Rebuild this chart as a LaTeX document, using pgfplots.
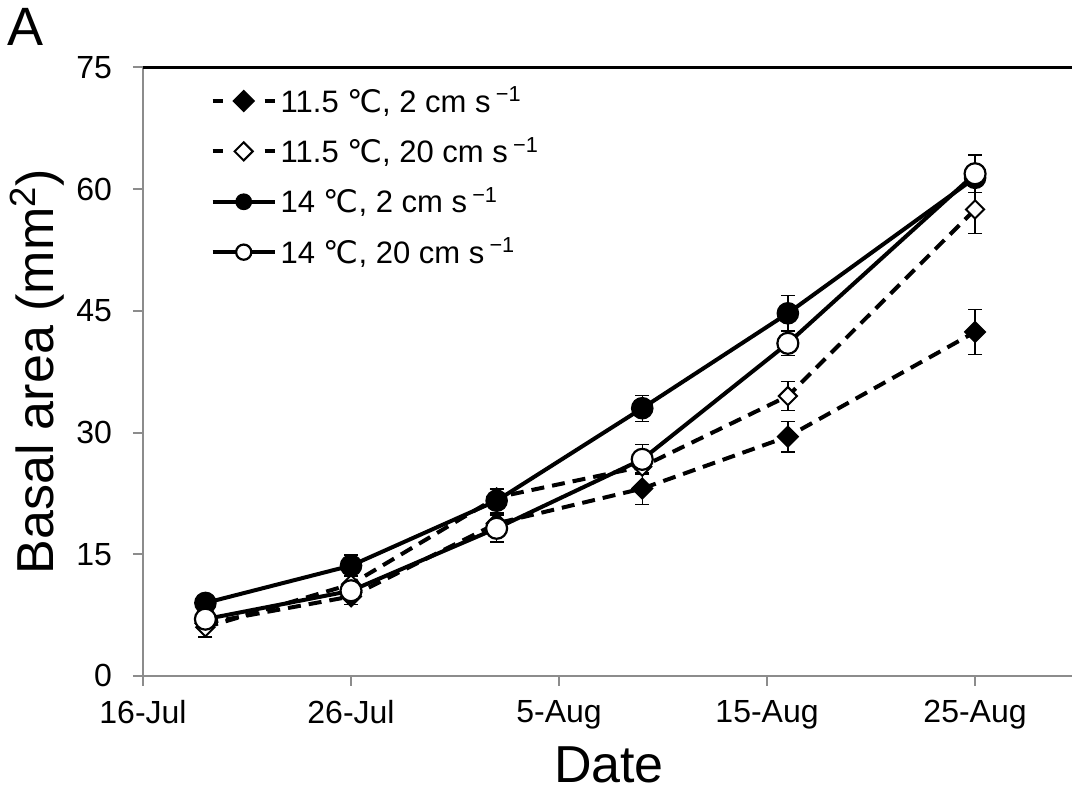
\documentclass[border=0pt]{standalone}
\usepackage{fontspec}
\setmainfont{Liberation Sans}
\newfontfamily\djfont{DejaVu Sans}
\usepackage{pgfplots}
\pgfplotsset{compat=1.18}
\usepackage{pgfplotstable}

% x = days after 16-Jul
\pgfplotstableread{
x y e
3 6.5 0.6
10 9.8 1.0
17 18.8 1.0
24 23.1 2.0
31 29.5 1.9
40 42.4 2.8
}\tabA
\pgfplotstableread{
x y e
3 6.0 1.2
10 11.3 1.0
17 22.0 1.0
24 25.8 1.0
31 34.5 1.8
40 57.5 3.0
}\tabB
\pgfplotstableread{
x y e
3 9.0 0.5
10 13.6 1.3
17 21.6 1.5
24 33.0 1.6
31 44.7 2.2
40 61.4 1.0
}\tabC
\pgfplotstableread{
x y e
3 7.0 0.5
10 10.5 0.8
17 18.2 1.7
24 26.7 1.8
31 41.0 1.5
40 61.9 2.3
}\tabD

\pgfplotsset{
  dashleg/.style={legend image code/.code={
    \draw[##1,solid] (0pt,0pt) -- (5pt,0pt);
    \draw[##1,solid] (26pt,0pt) -- (31pt,0pt);
    \draw[##1] plot coordinates {(15.5pt,0pt)};}},
  solidleg/.style={legend image code/.code={
    \draw[##1,solid] (0pt,0pt) -- (31pt,0pt);
    \draw[##1,mark size=3.8pt] plot coordinates {(15.5pt,0pt)};}},
  ebar/.style={error bars/.cd, y dir=both, y explicit,
    error bar style={black,line width=0.7pt,solid},
    error mark options={rotate=90,mark size=3.5pt,black,line width=0.7pt,solid}},
}

\begin{document}
\begin{tikzpicture}
\begin{axis}[
  scale only axis, width=464.5pt, height=304.25pt,
  xmin=0, xmax=44.66, ymin=0, ymax=75,
  axis x line*=bottom, axis y line*=left,
  axis line style={-, draw=black!45, line width=1pt},
  xtick={0,10,20,30,40},
  xticklabels={16-Jul,26-Jul,5-Aug,15-Aug,25-Aug},
  ytick={0,15,30,45,60,75},
  tick align=outside, major tick length=5pt,
  tick style={draw=black!45, line width=1pt},
  /pgf/number format/assume math mode=true,
  ticklabel style={font=\fontsize{16}{16}\selectfont},
  xticklabel style={yshift=-3.5pt},
  yticklabel style={xshift=-7pt},
  xlabel={Date},
  ylabel={Basal area (mm\textsuperscript{2})},
  label style={font=\fontsize{26}{26}\selectfont},
  xlabel style={at={(axis description cs:0.5016,-0.146)}, anchor=center},
  ylabel style={at={(axis description cs:-0.114,0.5)}, anchor=center},
  clip=false,
  legend style={at={(axis description cs:0.066,0.982)}, anchor=north west,
    draw=none, fill=none, font=\fontsize{15.5}{17}\selectfont, row sep=7pt},
  legend cell align=left,
]
\addplot[black, line width=2pt, dash pattern=on 6.5pt off 4pt,
  mark=square*, mark size=3.6pt, mark options={solid, fill=black, draw=black, rotate=45, line width=0.8pt},
  dashleg, ebar] table[x=x,y=y,y error=e] {\tabA};
\addlegendentry{11.5 {\djfont ℃}, 2 cm s\,\textsuperscript{−1}}
\addplot[black, line width=2pt, dash pattern=on 6.5pt off 4pt,
  mark=square*, mark size=3.2pt, mark options={solid, fill=white, draw=black, rotate=45, line width=1pt},
  dashleg, ebar] table[x=x,y=y,y error=e] {\tabB};
\addlegendentry{11.5 {\djfont ℃}, 20 cm s\,\textsuperscript{−1}}
\addplot[black, line width=2pt,
  mark=*, mark size=5.25pt, mark options={solid, fill=black, draw=black, line width=0.8pt},
  solidleg, ebar] table[x=x,y=y,y error=e] {\tabC};
\addlegendentry{14 {\djfont ℃}, 2 cm s\,\textsuperscript{−1}}
\addplot[black, line width=2pt,
  mark=*, mark size=5.25pt, mark options={solid, fill=white, draw=black, line width=1.1pt},
  solidleg, ebar] table[x=x,y=y,y error=e] {\tabD};
\addlegendentry{14 {\djfont ℃}, 20 cm s\,\textsuperscript{−1}}
\draw[black, line width=1.2pt] (axis description cs:0,1) -- (axis description cs:1,1);
\node[font=\fontsize{27}{27}\selectfont, anchor=center] at (axis description cs:-0.127,1.067) {A};
\coordinate (BL) at (axis description cs:-0.15393,-0.19556);
\coordinate (TR) at (axis description cs:1,1.1109);
\end{axis}
\pgfresetboundingbox
\path[use as bounding box] (BL) rectangle (TR);
\end{tikzpicture}
\end{document}
